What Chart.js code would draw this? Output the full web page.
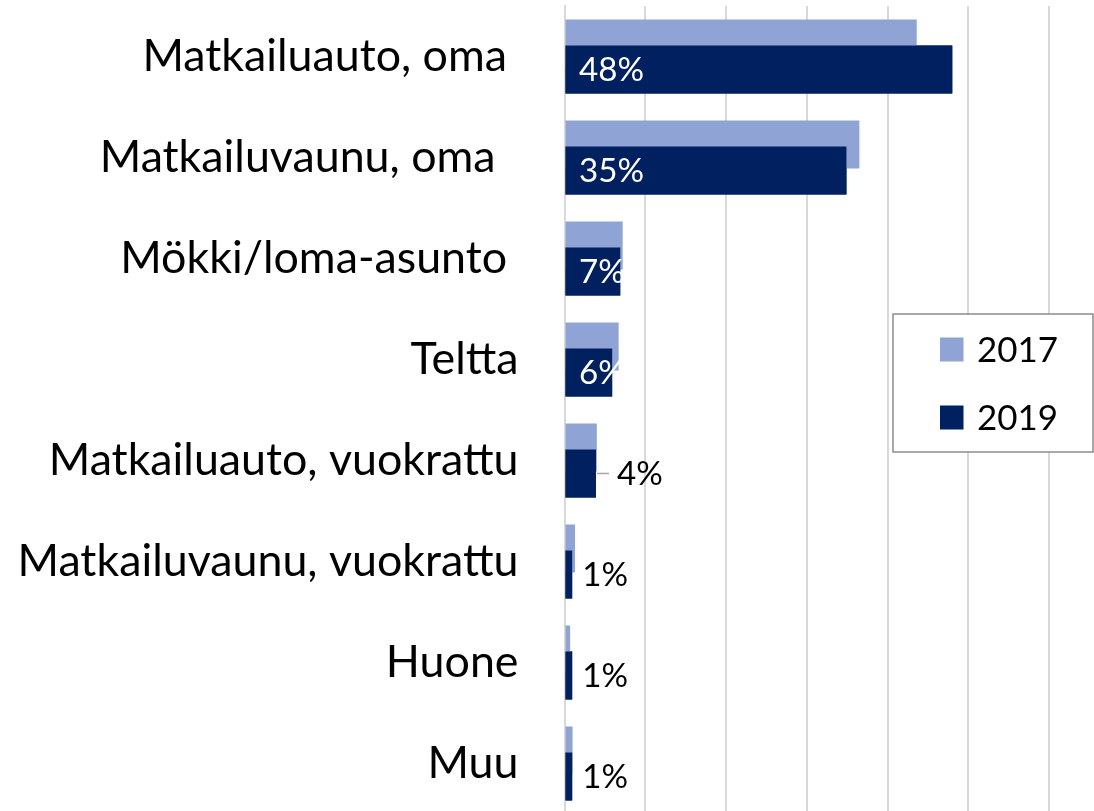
<!DOCTYPE html>
<html><head><meta charset="utf-8">
<script src="https://cdn.jsdelivr.net/npm/chart.js@4.4.1/dist/chart.umd.min.js"></script>
<style>html,body{margin:0;padding:0;overflow:hidden;background:#fff}
#wrap{position:relative;width:1140px;height:820px}</style></head>
<body><div id="wrap"><canvas id="c"></canvas></div>
<script>
const categories = ['Matkailuauto, oma ', 'Matkailuvaunu, oma  ', 'Mökki/loma-asunto ', 'Teltta', 'Matkailuauto, vuokrattu', 'Matkailuvaunu, vuokrattu', 'Huone', 'Muu'];
const seriesNames = ['2017', '2019'];
const values2017 = [43.6, 36.5, 7.2, 6.7, 4.0, 1.3, 0.7, 1.0];
const values2019 = [48.0, 34.9, 6.9, 5.9, 3.9, 0.95, 0.95, 0.95];
const xMax = 70;
const xStep = 10;

const FONT = 'Lato, "Open Sans", sans-serif';
const CAP = 0.72;
function fitSize(text, target) {
  const ctx = document.createElement('canvas').getContext('2d');
  ctx.font = '100px ' + FONT;
  return 100 * target / ctx.measureText(text).width;
}
const catSize = fitSize('Matkailuvaunu, vuokrattu', 501);
const labSize = fitSize('48%', 65);
const legSize = fitSize('2017', 81);

const labelPlugin = {
  id: 'valueLabels',
  afterDatasetsDraw(chart) {
    const ctx = chart.ctx;
    const meta = chart.getDatasetMeta(1);
    const ds = chart.data.datasets[1];
    ctx.save();
    // 2019 bars in front of 2017 bars
    meta.data.forEach(bar => bar.draw(ctx, chart.chartArea));
    ctx.font = labSize + 'px ' + FONT;
    ctx.textBaseline = 'alphabetic';
    ctx.textAlign = 'left';
    const off = labSize * CAP / 2;
    meta.data.forEach((bar, i) => {
      const v = ds.data[i];
      const txt = Math.round(v) + '%';
      if (v >= 5) {
        ctx.fillStyle = '#ffffff';
        ctx.fillText(txt, bar.base + 13.5, bar.y + off);
      } else if (v >= 3) {
        ctx.strokeStyle = '#a6a6a6';
        ctx.lineWidth = 1.5;
        ctx.beginPath();
        ctx.moveTo(bar.x + 1, bar.y);
        ctx.lineTo(bar.x + 13, bar.y);
        ctx.stroke();
        ctx.fillStyle = '#000000';
        ctx.fillText(txt, bar.x + 21, bar.y + off);
      } else {
        ctx.fillStyle = '#000000';
        ctx.fillText(txt, bar.x + 10, bar.y + off);
      }
    });
    ctx.restore();
  },
  afterDraw(chart) {
    const ctx = chart.ctx;
    ctx.save();
    const bx = 893, by = 314, bw = 200, bh = 138;
    ctx.fillStyle = '#ffffff';
    ctx.fillRect(bx, by, bw, bh);
    ctx.strokeStyle = '#8c8c8c';
    ctx.lineWidth = 1.5;
    ctx.strokeRect(bx, by, bw, bh);
    ctx.font = legSize + 'px ' + FONT;
    ctx.textBaseline = 'alphabetic';
    ctx.textAlign = 'left';
    chart.data.datasets.forEach((d, i) => {
      const cy = 349.5 + i * 68;
      ctx.fillStyle = d.backgroundColor;
      ctx.fillRect(940, cy - 12, 23.5, 24);
      ctx.fillStyle = '#000000';
      ctx.fillText(d.label, 977, cy + legSize * CAP / 2);
    });
    ctx.restore();
  }
};

new Chart(document.getElementById('c'), {
  type: 'bar',
  data: {
    labels: categories,
    datasets: [
      { label: seriesNames[0], data: values2017, backgroundColor: '#8FA3D5', categoryPercentage: 0.5145, barPercentage: 1.846, borderWidth: 0 },
      { label: seriesNames[1], data: values2019, backgroundColor: '#00205F', categoryPercentage: 0.5145, barPercentage: 1.846, borderWidth: 0 }
    ]
  },
  options: {
    indexAxis: 'y',
    responsive: true,
    maintainAspectRatio: false,
    animation: false,
    layout: { padding: { top: 6, bottom: 6, left: 0, right: 10 } },
    plugins: { legend: { display: false }, tooltip: { enabled: false } },
    scales: {
      x: {
        min: 0, max: xMax,
        ticks: { display: false, stepSize: xStep },
        grid: { color: '#d9d9d9', lineWidth: 2, drawTicks: false },
        border: { display: false },
        afterFit(s) { s.height = 0; s.paddingLeft = 0; s.paddingRight = 0; }
      },
      y: {
        grid: { display: false, drawTicks: false },
        border: { display: true, color: '#d9d9d9', width: 2 },
        ticks: { color: '#000000', font: { family: FONT, size: catSize }, padding: 46 },
        afterFit(s) { s.width = 564.5; s.paddingTop = 0; s.paddingBottom = 0; }
      }
    }
  },
  plugins: [labelPlugin]
});
</script>
</body></html>
